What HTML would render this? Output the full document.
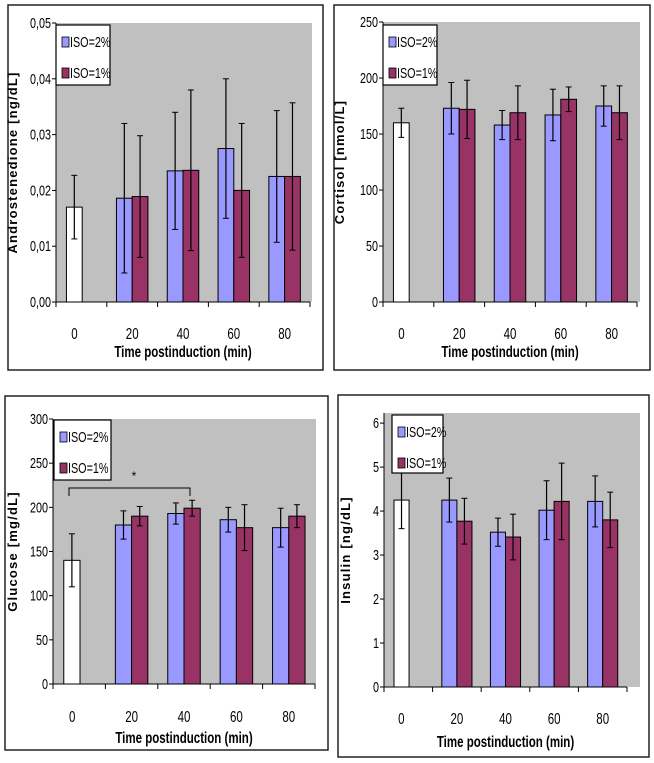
<!DOCTYPE html>
<html><head><meta charset="utf-8"><style>
html,body{margin:0;padding:0;background:#fff;width:654px;height:763px;overflow:hidden}
svg{display:block}
text{font-family:"Liberation Sans",sans-serif}
</style></head><body>
<svg id="chart" width="654" height="763" xmlns="http://www.w3.org/2000/svg"></svg>
<script>
const categories=["0","20","40","60","80"];
const andControl=[0.017], andControlErr=[0.0057];
const andIso2=[0.0186,0.0235,0.0275,0.0225], andIso2Err=[0.0134,0.0105,0.0125,0.0118];
const andIso1=[0.0189,0.0236,0.020,0.0225], andIso1Err=[0.0109,0.0144,0.012,0.0132];
const corControl=[160], corControlErr=[13];
const corIso2=[173,158,167,175], corIso2Err=[23,13,23,18];
const corIso1=[172,169,181,169], corIso1Err=[26,24,11,24];
const gluControl=[140], gluControlErr=[30];
const gluIso2=[180,193,186,177], gluIso2Err=[16,12,14,22];
const gluIso1=[190,199,177,190], gluIso1Err=[11,9,26,13];
const insControl=[4.25], insControlErr=[0.65];
const insIso2=[4.25,3.52,4.02,4.22], insIso2Err=[0.5,0.32,0.67,0.58];
const insIso1=[3.77,3.41,4.22,3.8], insIso1Err=[0.52,0.52,0.87,0.63];
const andTicks=["0,00","0,01","0,02","0,03","0,04","0,05"];
const corTicks=["0","50","100","150","200","250"];
const gluTicks=["0","50","100","150","200","250","300"];
const insTicks=["0","1","2","3","4","5","6"];
const legendLabels=["ISO=2%","ISO=1%"];

const NS="http://www.w3.org/2000/svg";
const svg=document.getElementById('chart');
function mk(tag,attrs,parent,txt){const e=document.createElementNS(NS,tag);for(const k in attrs)e.setAttribute(k,attrs[k]);if(txt!==undefined)e.textContent=txt;(parent||svg).appendChild(e);return e;}
function ntext(x,y,size,anchor,bold,parent,txt){
 return mk('text',{x:0,y:0,'font-size':size,'text-anchor':anchor,'font-weight':bold?'bold':'normal',transform:`translate(${x},${y}) scale(0.72,1)`},parent,txt);
}

const panels=[
 {name:'androstenedione',box:[8,5,315,365],px0:56,px1:312,axisR:310,yTop:23,y0:302,ymax:0.05,ticks:andTicks,tickStep:0.01,ctrl:andControl,ctrlE:andControlErr,s2:andIso2,s2E:andIso2Err,s1:andIso1,s1E:andIso1Err,title:'Androstenedione [ng/dL]',leg:[56,25,54,60],xlabY:334,xtY:352,tx:17},
 {name:'cortisol',box:[334,5,316,365],px0:383,px1:640,axisR:637,yTop:22,y0:302,ymax:250,ticks:corTicks,tickStep:50,ctrl:corControl,ctrlE:corControlErr,s2:corIso2,s2E:corIso2Err,s1:corIso1,s1E:corIso1Err,title:'Cortisol [nmol/L]',leg:[383,25,54,60],xlabY:334,xtY:352,tx:344},
 {name:'glucose',box:[5,396,323,354],px0:53,px1:316,axisR:315,yTop:419,y0:684,ymax:300,ticks:gluTicks,tickStep:50,ctrl:gluControl,ctrlE:gluControlErr,s2:gluIso2,s2E:gluIso2Err,s1:gluIso1,s1E:gluIso1Err,title:'Glucose [mg/dL]',leg:[54,420,57,60],xlabY:717,xtY:738,tx:17},
 {name:'insulin',box:[338,395,311,362],px0:384,px1:640,axisR:627,yTop:413,y0:687,ymax:6.23,ticks:insTicks,tickStep:1,ctrl:insControl,ctrlE:insControlErr,s2:insIso2,s2E:insIso2Err,s1:insIso1,s1E:insIso1Err,title:'Insulin [ng/dL]',leg:[392,415,51,58],xlabY:719,xtY:742,tx:350}
];

panels.forEach(p=>{
 const g=mk('g',{},svg);
 
 
 mk('rect',{x:p.box[0],y:p.box[1],width:p.box[2],height:p.box[3],fill:'#fff',stroke:'#222','stroke-width':1.5},g);
 const ys=v=>p.y0-(v/p.ymax)*(p.y0-p.yTop);
 const cw=(p.axisR-p.px0)/categories.length;
 const cx=i=>p.px0+cw*(i+0.5);
 const bw=cw*0.31;
 const bg=mk('rect',{x:p.px0,y:p.yTop,width:p.px1-p.px0,height:p.y0-p.yTop,fill:'#c0c0c0'},g);
 
 
 mk('line',{x1:p.px0,y1:p.yTop,x2:p.px0,y2:p.y0,stroke:'#000','stroke-width':1},g);
 p.ticks.forEach((t,i)=>{
  const y=ys(i*p.tickStep);
  mk('line',{x1:p.px0-4,y1:y,x2:p.px0,y2:y,stroke:'#000'},g);
  const tl=ntext(p.px0-5,y+5,15,'end',false,g,t);
  
  
 });
 mk('line',{x1:p.px0,y1:p.y0,x2:p.axisR,y2:p.y0,stroke:'#000','stroke-width':1},g);
 for(let i=0;i<=categories.length;i++){const x=p.px0+cw*i;mk('line',{x1:x,y1:p.y0,x2:x,y2:p.y0+5,stroke:'#000'},g);}
 categories.forEach((c,i)=>{
  const tl=ntext(cx(i)-(i===0?7:0),p.xlabY+5,16,'middle',false,g,c);
  
  
 });
 const xt=ntext((p.px0+p.axisR)/2,p.xtY+5,16,'middle',true,g,'Time postinduction (min)');
 
 
 const ty=(p.yTop+p.y0)/2, tx=p.tx;
 const yt=mk('text',{x:tx,y:ty,'font-size':13,'font-weight':'bold','text-anchor':'middle','letter-spacing':'1.2',transform:`rotate(-90 ${tx} ${ty})`},g,p.title);
 
 
 function bar(x,v,e,fill,nm){
  const y=ys(v);
  const r=mk('rect',{x:x,y:y,width:bw,height:p.y0-y,fill:fill,stroke:'#000','stroke-width':1},g);
  
  
  const m=x+bw/2, t=ys(v+e), b=ys(v-e);
  mk('line',{x1:m,y1:t,x2:m,y2:b,stroke:'#000','stroke-width':1.2},g);
  mk('line',{x1:m-3,y1:t,x2:m+3,y2:t,stroke:'#000'},g);
  mk('line',{x1:m-3,y1:b,x2:m+3,y2:b,stroke:'#000'},g);
 }
 p.ctrl.forEach((v,i)=>bar(cx(0)-bw*0.95,v,p.ctrlE[i],'#fff','bar-control'));
 p.s2.forEach((v,i)=>bar(cx(i+1)-bw,v,p.s2E[i],'#9999ff','bar-iso2-'+categories[i+1]));
 p.s1.forEach((v,i)=>bar(cx(i+1),v,p.s1E[i],'#993366','bar-iso1-'+categories[i+1]));
 const lg=mk('g',{},g);
 
 
 const [lx,ly,lw,lh]=p.leg;
 mk('rect',{x:lx,y:ly,width:lw,height:lh,fill:'#fff',stroke:'#000','stroke-width':1.2},lg);
 [['#9999ff',legendLabels[0]],['#993366',legendLabels[1]]].forEach((it,k)=>{
  const yy=ly+17+k*31;
  mk('rect',{x:lx+6,y:yy-5,width:7,height:10,fill:it[0],stroke:'#000','stroke-width':0.8},lg);
  const t=ntext(lx+14,yy+5,15,'start',false,lg,it[1]);
  
  
 });
 if(p.name==='glucose'){
  const by=488, x1=69, x2=190;
  const br=mk('path',{d:`M${x1} ${by+8}V${by}H${x2}V${by+8}`,fill:'none',stroke:'#000','stroke-width':1},g);
  
  
  const st=mk('text',{x:134,y:480,'font-size':12,'text-anchor':'middle'},g,'*');
  
  
 }
});
</script>
</body></html>
